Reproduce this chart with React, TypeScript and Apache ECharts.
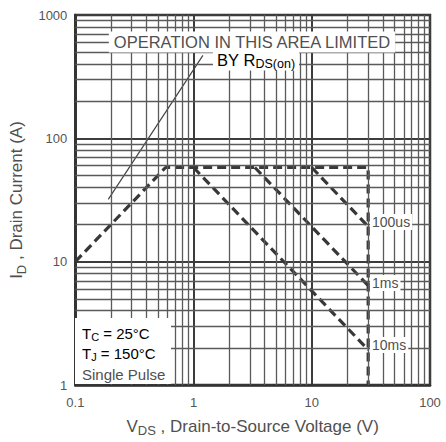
import React, { useEffect, useRef } from "react";
import * as echarts from "echarts";

// Safe operating area data (VDS in V, ID in A)
const envelope: [number, number][] = [[0.1, 10], [0.58, 58], [30, 58], [30, 1]];
const curve10ms: [number, number][] = [[1, 58], [30, 1.93]];
const curve1ms: [number, number][] = [[3.3, 58], [30, 6.4]];
const curve100us: [number, number][] = [[10, 58], [30, 19.3]];
const rdsPointer: [number, number][] = [[0.19, 32], [1.2, 470]];

const xMinor = [0.2, 0.3, 0.4, 0.5, 0.6, 0.7, 0.8, 0.9, 2, 3, 4, 5, 6, 7, 8, 9, 20, 30, 40, 50, 60, 70, 80, 90];
const yMinor = [2, 3, 4, 5, 6, 7, 8, 9, 20, 30, 40, 50, 60, 70, 80, 90, 200, 300, 400, 500, 600, 700, 800, 900];

const FONT = "Liberation Sans, Arial, sans-serif";
const TXT = "#505050";
const LINE = "#383838";

export default function App() {
  const ref = useRef<HTMLDivElement>(null);
  useEffect(() => {
    document.body.style.margin = "0";
    const chart = echarts.init(ref.current!, null, { renderer: "svg" });
    const dashed = { type: [9, 5] as any, width: 3.2, color: LINE };
    const sub = (fs: number, pad: number) => ({ fontSize: fs, fontFamily: FONT, color: TXT, padding: [pad, 0, 0, 0] });
    chart.setOption({
      animation: false,
      textStyle: { fontFamily: FONT },
      grid: { left: 73, right: 16, top: 15, bottom: 56, show: true, borderColor: "#333", borderWidth: 2.5, backgroundColor: "#fff" },
      xAxis: {
        type: "log",
        logBase: 10,
        min: 0.1,
        max: 100,
        name: "{a|V}{s|DS}{a| , Drain-to-Source Voltage (V)}",
        nameLocation: "middle",
        nameGap: 30,
        nameTextStyle: {
          rich: {
            a: { fontSize: 17, fontFamily: FONT, color: TXT },
            s: sub(13, 9),
          },
        },
        axisLine: { show: true, lineStyle: { color: "#333", width: 2.5 } },
        axisTick: { show: false },
        axisLabel: { fontSize: 13, color: "#555", margin: 11, fontFamily: FONT, formatter: (v: number) => String(v) },
        splitLine: { show: true, lineStyle: { color: "#3c3c3c", width: 2 } },
      },
      yAxis: {
        type: "log",
        logBase: 10,
        min: 1,
        max: 1000,
        name: "{a|I}{s|D}{a| , Drain Current (A)}",
        nameLocation: "middle",
        nameRotate: 90,
        nameGap: 36,
        nameTextStyle: {
          rich: {
            a: { fontSize: 17, fontFamily: FONT, color: TXT },
            s: sub(13, 9),
          },
        },
        axisLine: { show: true, lineStyle: { color: "#333", width: 2.5 } },
        axisTick: { show: false },
        axisLabel: { fontSize: 13, color: "#555", margin: 8, fontFamily: FONT, formatter: (v: number) => String(v) },
        splitLine: { show: true, lineStyle: { color: "#3c3c3c", width: 2 } },
      },
      series: [
        {
          type: "line",
          z: 1,
          data: [[0.1, 1]],
          symbol: "none",
          silent: true,
          lineStyle: { width: 0 },
          markLine: {
            silent: true,
            symbol: ["none", "none"],
            label: { show: false },
            emphasis: { disabled: true },
            lineStyle: { type: "solid", width: 1.3, color: "#5a5a5a" },
            data: [...xMinor.map((v) => ({ xAxis: v })), ...yMinor.map((v) => ({ yAxis: v }))],
          },
        },
        { type: "line", z: 3, data: envelope, symbol: "none", silent: true, lineStyle: dashed },
        { type: "line", z: 3, data: curve10ms, symbol: "none", silent: true, lineStyle: dashed },
        { type: "line", z: 3, data: curve1ms, symbol: "none", silent: true, lineStyle: dashed },
        { type: "line", z: 3, data: curve100us, symbol: "none", silent: true, lineStyle: dashed },
        { type: "line", z: 3, data: rdsPointer, symbol: "none", silent: true, lineStyle: { width: 1.2, color: "#444" } },
      ],
      graphic: [
        {
          type: "text", x: 252, y: 42, z: 100,
          style: { text: "OPERATION IN THIS AREA LIMITED", fontSize: 16.5, fontFamily: FONT, fill: TXT, align: "center", verticalAlign: "middle", backgroundColor: "#fff", padding: [2, 4] },
        },
        {
          type: "text", x: 256, y: 60, z: 100,
          style: {
            text: "{a|BY R}{s|DS(on)}",
            align: "center", verticalAlign: "middle", backgroundColor: "#fff", padding: [0, 4],
            rich: { a: { fontSize: 16.5, fontFamily: FONT, color: TXT }, s: sub(12.5, 8) },
          },
        },
        { type: "rect", z: 100, shape: { x: 75, y: 318, width: 96, height: 66 }, style: { fill: "#fff" } },
        {
          type: "text", x: 82, y: 333, z: 101,
          style: {
            text: "{a|T}{s|C}{a| = 25°C}", align: "left", verticalAlign: "middle",
            rich: { a: { fontSize: 15, fontFamily: FONT, color: TXT }, s: sub(11, 8) },
          },
        },
        {
          type: "text", x: 82, y: 353, z: 101,
          style: {
            text: "{a|T}{s|J}{a| = 150°C}", align: "left", verticalAlign: "middle",
            rich: { a: { fontSize: 15, fontFamily: FONT, color: TXT }, s: sub(11, 8) },
          },
        },
        {
          type: "text", x: 82, y: 374, z: 101,
          style: { text: "Single Pulse", fontSize: 15, fontFamily: FONT, fill: TXT, align: "left", verticalAlign: "middle" },
        },
        {
          type: "text", x: 370, y: 222, z: 100,
          style: { text: "100us", fontSize: 14, fontFamily: FONT, fill: TXT, align: "left", verticalAlign: "middle", backgroundColor: "#fff", padding: [1, 2] },
        },
        {
          type: "text", x: 370, y: 283, z: 100,
          style: { text: "1ms", fontSize: 14, fontFamily: FONT, fill: TXT, align: "left", verticalAlign: "middle", backgroundColor: "#fff", padding: [1, 2] },
        },
        {
          type: "text", x: 370, y: 345, z: 100,
          style: { text: "10ms", fontSize: 14, fontFamily: FONT, fill: TXT, align: "left", verticalAlign: "middle", backgroundColor: "#fff", padding: [1, 2] },
        },
      ],
    });
    return () => chart.dispose();
  }, []);
  return <div ref={ref} style={{ width: 446, height: 442 }} />;
}
